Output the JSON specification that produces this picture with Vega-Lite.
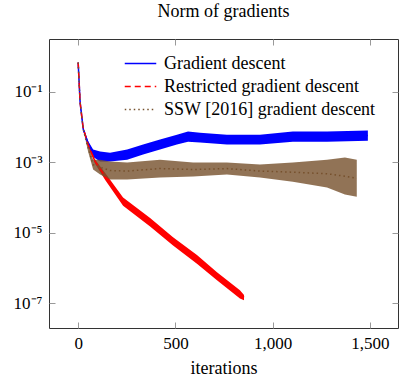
{
  "$schema": "https://vega.github.io/schema/vega-lite/v6.json",
  "width": 349,
  "height": 289,
  "autosize": "none",
  "padding": {"left": 49, "top": 39, "right": 1, "bottom": 52},
  "title": {"text": "Norm of gradients", "font": "Liberation Serif", "fontSize": 18, "fontWeight": "normal", "color": "#000", "anchor": "middle", "baseline": "alphabetic", "offset": 4},
  "config": {
    "view": {"stroke": "#333", "strokeWidth": 1},
    "font": "Liberation Serif",
    "axis": {"grid": false, "domain": false, "tickColor": "#999", "tickSize": -6, "labelFont": "Liberation Serif", "labelFontSize": 17, "labelColor": "#000", "titleFont": "Liberation Serif", "titleFontSize": 18, "titleFontWeight": "normal", "titleColor": "#000"},
    "legend": {"labelFont": "Liberation Serif", "labelFontSize": 18, "labelColor": "#000", "orient": "none", "legendX": 80, "legendY": 13, "title": null, "labelLimit": 300, "symbolType": "M-1.5,0H1.5", "symbolSize": 441, "symbolStrokeWidth": 1.5, "symbolFillColor": "transparent", "labelOffset": 12, "padding": 0}
  },
  "data": {"values": [
    {"s": "Gradient descent", "it": 0, "lo": 0.68, "hi": 0.68, "v": 0.68},
    {"s": "Gradient descent", "it": 10, "lo": 0.045, "hi": 0.055, "v": 0.05},
    {"s": "Gradient descent", "it": 26, "lo": 0.008, "hi": 0.0095, "v": 0.0087},
    {"s": "Gradient descent", "it": 51, "lo": 0.003, "hi": 0.004, "v": 0.0035},
    {"s": "Gradient descent", "it": 77, "lo": 0.0014, "hi": 0.0023, "v": 0.0018},
    {"s": "Gradient descent", "it": 113, "lo": 0.00105, "hi": 0.002, "v": 0.00145},
    {"s": "Gradient descent", "it": 164, "lo": 0.00105, "hi": 0.00186, "v": 0.0014},
    {"s": "Gradient descent", "it": 252, "lo": 0.00117, "hi": 0.0023, "v": 0.00164},
    {"s": "Gradient descent", "it": 334, "lo": 0.00166, "hi": 0.00316, "v": 0.0023},
    {"s": "Gradient descent", "it": 421, "lo": 0.0023, "hi": 0.0044, "v": 0.0032},
    {"s": "Gradient descent", "it": 508, "lo": 0.0032, "hi": 0.006, "v": 0.0044},
    {"s": "Gradient descent", "it": 565, "lo": 0.0038, "hi": 0.0074, "v": 0.0053},
    {"s": "Gradient descent", "it": 627, "lo": 0.0036, "hi": 0.0069, "v": 0.005},
    {"s": "Gradient descent", "it": 765, "lo": 0.0032, "hi": 0.006, "v": 0.0044},
    {"s": "Gradient descent", "it": 935, "lo": 0.0032, "hi": 0.006, "v": 0.0044},
    {"s": "Gradient descent", "it": 1104, "lo": 0.0038, "hi": 0.0074, "v": 0.0053},
    {"s": "Gradient descent", "it": 1280, "lo": 0.0038, "hi": 0.0074, "v": 0.0053},
    {"s": "Gradient descent", "it": 1490, "lo": 0.0041, "hi": 0.0079, "v": 0.0057},
    {"s": "Restricted gradient descent", "it": 0, "lo": 0.68, "hi": 0.68, "v": 0.68},
    {"s": "Restricted gradient descent", "it": 10, "lo": 0.045, "hi": 0.055, "v": 0.05},
    {"s": "Restricted gradient descent", "it": 26, "lo": 0.0085, "hi": 0.0098, "v": 0.0092},
    {"s": "Restricted gradient descent", "it": 51, "lo": 0.0028, "hi": 0.0036, "v": 0.0032},
    {"s": "Restricted gradient descent", "it": 87, "lo": 0.0009, "hi": 0.0012, "v": 0.00105},
    {"s": "Restricted gradient descent", "it": 139, "lo": 0.00031, "hi": 0.00049, "v": 0.00039},
    {"s": "Restricted gradient descent", "it": 231, "lo": 0.000058, "hi": 0.0001, "v": 0.000076},
    {"s": "Restricted gradient descent", "it": 370, "lo": 0.000015, "hi": 0.000026, "v": 0.0000195},
    {"s": "Restricted gradient descent", "it": 488, "lo": 0.0000043, "hi": 0.0000074, "v": 0.0000056},
    {"s": "Restricted gradient descent", "it": 611, "lo": 0.0000013, "hi": 0.0000023, "v": 0.00000174},
    {"s": "Restricted gradient descent", "it": 714, "lo": 0.00000044, "hi": 0.00000075, "v": 0.00000057},
    {"s": "Restricted gradient descent", "it": 832, "lo": 0.000000135, "hi": 0.00000023, "v": 0.000000178},
    {"s": "Restricted gradient descent", "it": 853, "lo": 0.00000012, "hi": 0.00000017, "v": 0.000000145},
    {"s": "SSW [2016] gradient descent", "it": 0, "lo": 0.68, "hi": 0.68, "v": 0.68},
    {"s": "SSW [2016] gradient descent", "it": 10, "lo": 0.045, "hi": 0.055, "v": 0.05},
    {"s": "SSW [2016] gradient descent", "it": 26, "lo": 0.0082, "hi": 0.0095, "v": 0.0088},
    {"s": "SSW [2016] gradient descent", "it": 40, "lo": 0.0038, "hi": 0.0046, "v": 0.0042},
    {"s": "SSW [2016] gradient descent", "it": 51, "lo": 0.002, "hi": 0.0032, "v": 0.0026},
    {"s": "SSW [2016] gradient descent", "it": 77, "lo": 0.00062, "hi": 0.00117, "v": 0.00085},
    {"s": "SSW [2016] gradient descent", "it": 113, "lo": 0.00045, "hi": 0.00117, "v": 0.00072},
    {"s": "SSW [2016] gradient descent", "it": 164, "lo": 0.00032, "hi": 0.00105, "v": 0.00058},
    {"s": "SSW [2016] gradient descent", "it": 252, "lo": 0.00032, "hi": 0.00098, "v": 0.00056},
    {"s": "SSW [2016] gradient descent", "it": 421, "lo": 0.00037, "hi": 0.00117, "v": 0.00066},
    {"s": "SSW [2016] gradient descent", "it": 591, "lo": 0.00039, "hi": 0.00098, "v": 0.00062},
    {"s": "SSW [2016] gradient descent", "it": 765, "lo": 0.00045, "hi": 0.00098, "v": 0.00066},
    {"s": "SSW [2016] gradient descent", "it": 935, "lo": 0.00037, "hi": 0.00086, "v": 0.00056},
    {"s": "SSW [2016] gradient descent", "it": 1104, "lo": 0.00028, "hi": 0.00098, "v": 0.00052},
    {"s": "SSW [2016] gradient descent", "it": 1280, "lo": 0.00019, "hi": 0.00117, "v": 0.00047},
    {"s": "SSW [2016] gradient descent", "it": 1372, "lo": 0.00012, "hi": 0.00135, "v": 0.0004},
    {"s": "SSW [2016] gradient descent", "it": 1433, "lo": 0.000105, "hi": 0.00117, "v": 0.00035}
  ]},
  "resolve": {"axis": {"x": "independent", "y": "independent"}},
  "layer": [
    {
      "transform": [{"filter": "datum.s == 'Gradient descent'"}],
      "mark": {"type": "area", "fill": "#0000ff"},
      "encoding": {
        "x": {"field": "it", "type": "quantitative", "scale": {"domain": [-150, 1645], "nice": false, "zero": false},
              "axis": {"orient": "bottom", "values": [0, 500, 1000, 1500], "labelExpr": "format(datum.value, ',d')", "labelPadding": 13, "title": "iterations", "titlePadding": 8}},
        "y": {"field": "lo", "type": "quantitative", "scale": {"type": "log", "domain": [1.95e-8, 3.16], "nice": false},
              "axis": {"orient": "left", "values": [0.1, 0.001, 0.00001, 0.0000001], "labelPadding": 13, "title": null,
                       "labelExpr": "datum.value > 0.05 ? '10⁻¹' : datum.value > 0.0005 ? '10⁻³' : datum.value > 0.000005 ? '10⁻⁵' : '10⁻⁷'"}},
        "y2": {"field": "hi"}
      }
    },
    {
      "transform": [{"filter": "datum.s == 'Restricted gradient descent'"}],
      "mark": {"type": "area", "fill": "#ff0000"},
      "encoding": {
        "x": {"field": "it", "type": "quantitative", "axis": null},
        "y": {"field": "lo", "type": "quantitative", "axis": null},
        "y2": {"field": "hi"}
      }
    },
    {
      "transform": [{"filter": "datum.s == 'SSW [2016] gradient descent'"}],
      "mark": {"type": "area", "fill": "#76502c", "fillOpacity": 0.8},
      "encoding": {
        "x": {"field": "it", "type": "quantitative", "axis": null},
        "y": {"field": "lo", "type": "quantitative", "axis": null},
        "y2": {"field": "hi"}
      }
    },
    {
      "mark": {"type": "line", "strokeWidth": 1.5},
      "encoding": {
        "x": {"field": "it", "type": "quantitative",
              "axis": {"orient": "top", "values": [0, 500, 1000, 1500], "labels": false, "title": null}},
        "y": {"field": "v", "type": "quantitative",
              "axis": {"orient": "right", "values": [0.1, 0.001, 0.00001, 0.0000001], "labels": false, "title": null}},
        "color": {"field": "s", "type": "nominal",
                  "scale": {"domain": ["Gradient descent", "Restricted gradient descent", "SSW [2016] gradient descent"], "range": ["#0000ff", "#ff0000", "#76502c"]}},
        "strokeDash": {"field": "s", "type": "nominal",
                       "scale": {"domain": ["Gradient descent", "Restricted gradient descent", "SSW [2016] gradient descent"], "range": [[1, 0], [6, 4], [1.5, 3]]}}
      }
    }
  ]
}
